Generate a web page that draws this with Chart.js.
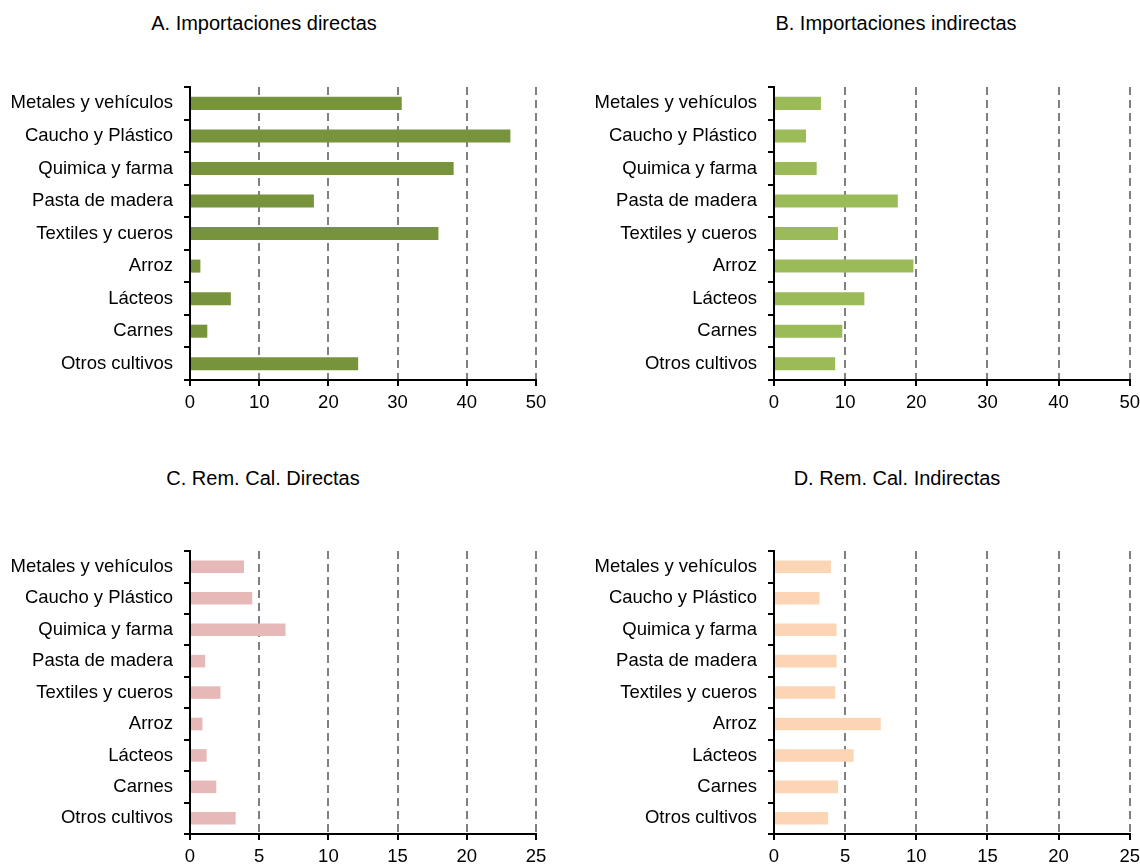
<!DOCTYPE html>
<html>
<head>
<meta charset="utf-8">
<script src="https://cdn.jsdelivr.net/npm/chart.js@4"></script>
<style>
    body { margin: 0; background: #fff; width: 1140px; height: 865px; position: relative; overflow: hidden; }
    canvas { position: absolute; }
    .title { position: absolute; width: 400px; text-align: center; font-family: "Liberation Sans", Arial, sans-serif; font-size: 20px; color: #000; }
</style>
</head>
<body>
<div class="title" style="left:64px; top:12px;">A. Importaciones directas</div>
<div class="title" style="left:696px; top:12px;">B. Importaciones indirectas</div>
<div class="title" style="left:63px; top:467px;">C. Rem. Cal. Directas</div>
<div class="title" style="left:697px; top:467px;">D. Rem. Cal. Indirectas</div>
<canvas id="chartA" width="560" height="347" style="left:0; top:65px;"></canvas>
<canvas id="chartB" width="562" height="347" style="left:584px; top:65px;"></canvas>
<canvas id="chartC" width="560" height="337" style="left:0; top:529px;"></canvas>
<canvas id="chartD" width="562" height="337" style="left:584px; top:529px;"></canvas>
<script>
const sectors = [
    "Metales y vehículos",
    "Caucho y Plástico",
    "Quimica y farma",
    "Pasta de madera",
    "Textiles y cueros",
    "Arroz",
    "Lácteos",
    "Carnes",
    "Otros cultivos",
];

// values, top to bottom
const importDirect = [30.6, 46.3, 38.1, 17.9, 35.9, 1.5, 5.9, 2.5, 24.3];
const importIndirect = [6.6, 4.5, 6.0, 17.4, 9.0, 19.6, 12.7, 9.6, 8.6];
const remDirect = [3.9, 4.5, 6.9, 1.1, 2.2, 0.9, 1.2, 1.9, 3.3];
const remIndirect = [4.0, 3.2, 4.4, 4.4, 4.3, 7.5, 5.6, 4.5, 3.8];

const importTicks = [0, 10, 20, 30, 40, 50];
const remTicks = [0, 5, 10, 15, 20, 25];

const FONT = { family: "Liberation Sans, Arial, sans-serif", size: 18.5 };

function makeChart(id, values, color, ticks, padRight) {
    const ctx = document.getElementById(id).getContext("2d");
    return new Chart(ctx, {
        type: "bar",
        data: {
            labels: sectors,
            datasets: [
                {
                    data: values,
                    backgroundColor: color,
                    borderWidth: 0,
                    barPercentage: 0.4,
                    categoryPercentage: 1,
                },
            ],
        },
        options: {
            indexAxis: "y",
            responsive: false,
            animation: false,
            layout: { padding: { top: 10, right: padRight, left: 0, bottom: 0 } },
            plugins: { legend: { display: false }, tooltip: { enabled: false } },
            scales: {
                x: {
                    min: ticks[0],
                    max: ticks[ticks.length - 1],
                    afterBuildTicks: (s) => {
                        s.ticks = ticks.map((v) => ({ value: v }));
                    },
                    afterFit: (s) => {
                        s.height = 32;
                    },
                    border: { color: "#000", width: 2, dash: [8, 5] },
                    grid: {
                        color: (c) => (c.index === 0 ? "rgba(0,0,0,0)" : "#808080"),
                        lineWidth: 2,
                        tickColor: "#000",
                        tickWidth: 2,
                        tickLength: 6,
                        tickBorderDash: [],
                    },
                    ticks: { color: "#000", font: FONT, padding: 6, maxRotation: 0 },
                },
                y: {
                    afterFit: (s) => {
                        s.width = 190;
                    },
                    border: { color: "#000", width: 2 },
                    grid: {
                        drawOnChartArea: false,
                        color: "#000",
                        tickColor: "#000",
                        lineWidth: 2,
                        tickLength: 6,
                    },
                    ticks: { color: "#000", font: FONT, padding: 11 },
                },
            },
        },
    });
}

makeChart("chartA", importDirect, "#77933C", importTicks, 24);
makeChart("chartB", importIndirect, "#9BBB59", importTicks, 10);
makeChart("chartC", remDirect, "#E6B9B8", remTicks, 24);
makeChart("chartD", remIndirect, "#FCD5B5", remTicks, 10);
</script>
</body>
</html>
